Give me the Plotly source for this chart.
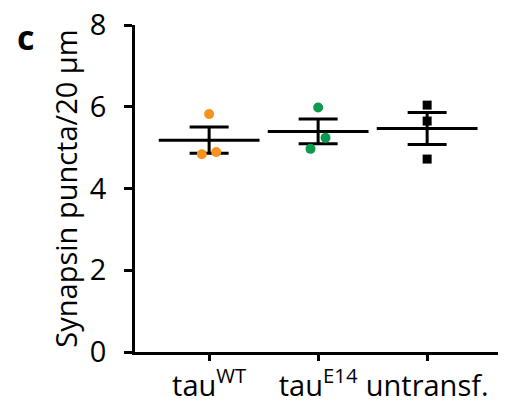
import numpy as np
import plotly.graph_objects as go

categories = ["tau<sup>WT</sup>", "tau<sup>E14</sup>", "untransf."]
tau_wt = [5.82, 4.84, 4.89]
tau_e14 = [5.98, 5.24, 4.97]
untransf = [6.04, 5.65, 4.72]
x_jitter = [[0.0, -0.067, 0.065], [0.0, 0.068, -0.07], [0.0, 0.0, 0.0]]
y_tick_vals = [0, 2, 4, 6, 8]

groups = [tau_wt, tau_e14, untransf]
colors = ["#F7941D", "#0B9A4E", "#000000"]
symbols = ["circle", "circle", "square"]
sizes = [10, 10, 9]

FONT = "Open Sans"
FS = 29
fig = go.Figure()

means = [float(np.mean(g)) for g in groups]
sems = [float(np.std(g, ddof=1) / np.sqrt(len(g))) for g in groups]

# mean line + SEM error bars
fig.add_trace(go.Scatter(
    x=list(range(len(groups))), y=means, mode="markers",
    marker=dict(symbol="line-ew-open", size=72, line=dict(width=3, color="black"), color="black"),
    error_y=dict(type="data", array=sems, visible=True, thickness=3, width=19.5, color="black"),
    showlegend=False, hoverinfo="skip"))

for i, g in enumerate(groups):
    fig.add_trace(go.Scatter(
        x=[i + dx for dx in x_jitter[i]], y=g, mode="markers",
        marker=dict(symbol=symbols[i], size=sizes[i], color=colors[i], line=dict(width=0)),
        showlegend=False))

fig.update_layout(
    width=521, height=404,
    margin=dict(l=135, r=23, t=25, b=52, autoexpand=False),
    plot_bgcolor="white", paper_bgcolor="white",
    font=dict(family=FONT, size=FS, color="black"),
)
fig.add_annotation(text="<b>c</b>", xref="paper", yref="paper",
                   x=-0.303, y=0.963, xanchor="center", yanchor="middle",
                   showarrow=False, font=dict(family=FONT, size=34, color="black"))

fig.update_xaxes(
    range=[-0.68, 2.65], tickmode="array", tickvals=list(range(len(categories))),
    ticktext=categories, showline=True, linecolor="black", linewidth=2.5,
    ticks="outside", ticklen=6, tickwidth=2.5, tickcolor="black",
    showgrid=False, zeroline=False, tickfont=dict(size=FS), automargin=False,
    ticklabelstandoff=0)
fig.update_yaxes(
    range=[0, 8], tickvals=y_tick_vals, showline=True, linecolor="black", linewidth=2.5,
    ticks="outside", ticklen=8, tickwidth=2.5, tickcolor="black",
    showgrid=False, zeroline=False, tickfont=dict(size=FS), automargin=False,
    ticklabelstandoff=12,
    title=dict(text="Synapsin puncta/20 µm", font=dict(size=FS), standoff=4))

fig.write_html("out.html")
